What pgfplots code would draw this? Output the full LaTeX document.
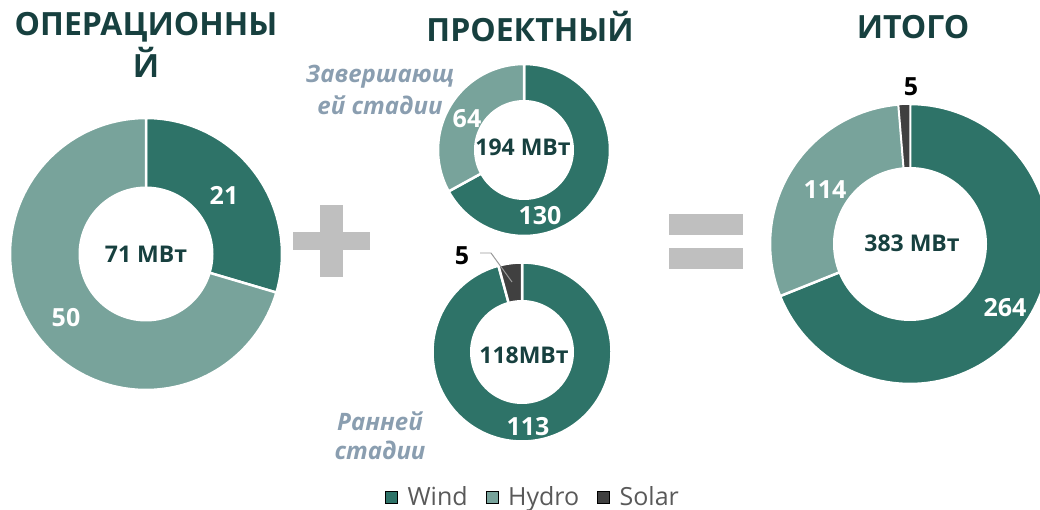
\documentclass[border=0pt]{standalone}
\usepackage{fontspec}
\setmainfont{Open Sans}
\usepackage{pgfplots}
\pgfplotsset{compat=1.18}
\definecolor{windc}{HTML}{2E7368}
\definecolor{hydroc}{HTML}{78A39B}
\definecolor{solarc}{HTML}{404040}
\definecolor{titlec}{HTML}{17403F}
\definecolor{stagec}{HTML}{8A9EB0}
\definecolor{legc}{HTML}{595959}
\definecolor{plusc}{HTML}{BFBFBF}
\newcommand{\fs}[1]{\fontsize{#1bp}{#1bp}\selectfont}
\begin{document}
\begin{tikzpicture}
% values (MW): operational, late stage, early stage, total
% Op: Wind 21, Hydro 50 ; Late: Wind 130, Hydro 64 ; Early: Wind 113, Solar 5 ; Total: Wind 264, Hydro 114, Solar 5
\pgfmathsetmacro\aOW{90-21/71*360}
\pgfmathsetmacro\aLW{90-130/194*360}
\pgfmathsetmacro\aEW{90-113/118*360}
\pgfmathsetmacro\aTW{90-264/383*360}
\pgfmathsetmacro\aTH{\aTW-114/383*360}
\begin{axis}[name=ax, scale only axis, width=1040bp, height=510bp,
  xmin=0, xmax=1040, ymin=0, ymax=510, y dir=reverse, hide axis,
  legend style={at={(axis cs:533,497)}, anchor=center, draw=none, fill=none,
    legend columns=3, font=\fs{25}\color{legc},
    /tikz/every odd column/.append style={column sep=8bp},
    /tikz/every even column/.append style={column sep=16bp}},
  legend image code/.code={\fill[#1] (0bp,-6bp) rectangle (12bp,6bp);},
  every axis plot/.append style={forget plot}]
% ---- Operational donut
\addplot[fill=windc, draw=white, line width=2.5pt, domain=\aOW:90, samples=60, variable=\t] ({146+136*cos(\t)},{254-136*sin(\t)}) -- (axis cs:146,254) -- cycle;
\addplot[fill=hydroc, draw=white, line width=2.5pt, domain=-270:\aOW, samples=120, variable=\t] ({146+136*cos(\t)},{254-136*sin(\t)}) -- (axis cs:146,254) -- cycle;
\addplot[fill=white, draw=none, domain=0:360, samples=120, variable=\t] ({146+67.5*cos(\t)},{254-67.5*sin(\t)}) -- cycle;
% ---- Late stage donut
\addplot[fill=windc, draw=white, line width=2.5pt, domain=\aLW:90, samples=90, variable=\t] ({524+86*cos(\t)},{150-86*sin(\t)}) -- (axis cs:524,150) -- cycle;
\addplot[fill=hydroc, draw=white, line width=2.5pt, domain=-270:\aLW, samples=50, variable=\t] ({524+86*cos(\t)},{150-86*sin(\t)}) -- (axis cs:524,150) -- cycle;
\addplot[fill=white, draw=none, domain=0:360, samples=120, variable=\t] ({524+50*cos(\t)},{150-50*sin(\t)}) -- cycle;
% ---- Early stage donut
\addplot[fill=windc, draw=white, line width=2.5pt, domain=\aEW:90, samples=120, variable=\t] ({522+89.5*cos(\t)},{352-89.5*sin(\t)}) -- (axis cs:522,352) -- cycle;
\addplot[fill=solarc, draw=white, line width=2.5pt, domain=-270:\aEW, samples=10, variable=\t] ({522+89.5*cos(\t)},{352-89.5*sin(\t)}) -- (axis cs:522,352) -- cycle;
\addplot[fill=white, draw=none, domain=0:360, samples=120, variable=\t] ({522+52*cos(\t)},{352-52*sin(\t)}) -- cycle;
% ---- Total donut
\addplot[fill=windc, draw=white, line width=2.5pt, domain=\aTW:90, samples=90, variable=\t] ({910+140*cos(\t)},{244-140*sin(\t)}) -- (axis cs:910,244) -- cycle;
\addplot[fill=hydroc, draw=white, line width=2.5pt, domain=\aTH:\aTW, samples=50, variable=\t] ({910+140*cos(\t)},{244-140*sin(\t)}) -- (axis cs:910,244) -- cycle;
\addplot[fill=solarc, draw=white, line width=1.5pt, domain=-270:\aTH, samples=8, variable=\t] ({910+140*cos(\t)},{244-140*sin(\t)}) -- (axis cs:910,244) -- cycle;
\addplot[fill=white, draw=none, domain=0:360, samples=120, variable=\t] ({910+77*cos(\t)},{244-77*sin(\t)}) -- cycle;
% ---- operators
\fill[plusc] (axis cs:319.5,205.5) rectangle (axis cs:342.5,277.5);
\fill[plusc] (axis cs:292.5,232.5) rectangle (axis cs:369.5,250.5);
\fill[plusc] (axis cs:669,214) rectangle (axis cs:743,235);
\fill[plusc] (axis cs:669,248) rectangle (axis cs:743,269);
% ---- titles
\node[font=\fs{32}\bfseries, text=titlec] at (axis cs:146,27) {ОПЕРАЦИОННЫ};
\node[font=\fs{32}\bfseries, text=titlec] at (axis cs:146,62) {Й};
\node[font=\fs{32}\bfseries, text=titlec] at (axis cs:530,27) {ПРОЕКТНЫЙ};
\node[font=\fs{32}\bfseries, text=titlec] at (axis cs:913,27) {ИТОГО};
% ---- stage labels
\node[font=\fs{24}\bfseries\itshape, text=stagec] at (axis cs:380,77) {Завершающ};
\node[font=\fs{24}\bfseries\itshape, text=stagec] at (axis cs:380,105) {ей стадии};
\node[font=\fs{24}\bfseries\itshape, text=stagec] at (axis cs:380,421) {Ранней};
\node[font=\fs{24}\bfseries\itshape, text=stagec] at (axis cs:380,450) {стадии};
% ---- center labels
\node[font=\fs{23}\bfseries, text=titlec] at (axis cs:146,254) {71 МВт};
\node[font=\fs{23}\bfseries, text=titlec] at (axis cs:523,147) {194 МВт};
\node[font=\fs{23}\bfseries, text=titlec] at (axis cs:524,355) {118МВт};
\node[font=\fs{23}\bfseries, text=titlec] at (axis cs:912,243) {383 МВт};
% ---- value labels
\node[font=\fs{25}\bfseries, text=white] at (axis cs:224,195) {21};
\node[font=\fs{25}\bfseries, text=white] at (axis cs:66,318) {50};
\node[font=\fs{25}\bfseries, text=white] at (axis cs:540,216) {130};
\node[font=\fs{25}\bfseries, text=white] at (axis cs:467,119) {64};
\node[font=\fs{25}\bfseries, text=white] at (axis cs:528,427) {113};
\node[font=\fs{25}\bfseries, text=black] at (axis cs:462,256) {5};
\draw[plusc!80!black, line width=1pt] (axis cs:480,253) -- (axis cs:491,253) -- (axis cs:512,282);
\node[font=\fs{25}\bfseries, text=black] at (axis cs:911,87) {5};
\node[font=\fs{25}\bfseries, text=white] at (axis cs:825,190) {114};
\node[font=\fs{25}\bfseries, text=white] at (axis cs:1005,308) {264};
% ---- legend
\addlegendimage{fill=windc}\addlegendentry{Wind}
\addlegendimage{fill=hydroc}\addlegendentry{Hydro}
\addlegendimage{fill=solarc}\addlegendentry{Solar}
\end{axis}
\pgfresetboundingbox
\useasboundingbox (ax.south west) rectangle (ax.north east);
\end{tikzpicture}
\end{document}
